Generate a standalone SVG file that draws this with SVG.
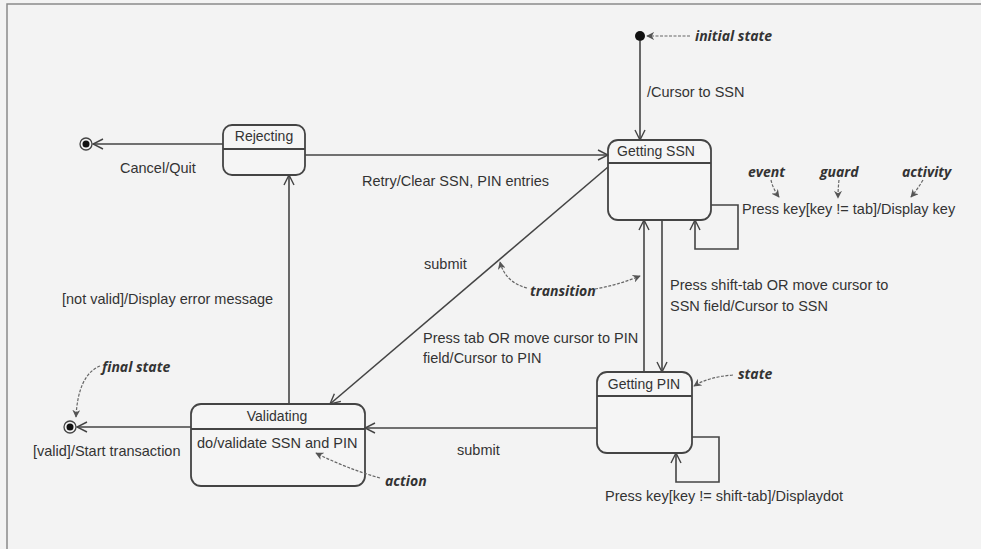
<svg xmlns="http://www.w3.org/2000/svg" width="981" height="549" viewBox="0 0 981 549">
<style>
.bg{fill:#f3f3f3}
.frame{fill:none;stroke:#8a8a8a;stroke-width:1.5}
.st{fill:#f5f5f5;stroke:#444;stroke-width:1.8}
.div{stroke:#444;stroke-width:1.8}
.c{fill:none;stroke:#444;stroke-width:1.6}
.n{fill:none;stroke:#666;stroke-width:1.2;stroke-dasharray:3 1.5}
.t{font-family:"Liberation Sans",Arial,sans-serif;font-size:14.5px;fill:#333}
.sn{font-family:"Liberation Sans",Arial,sans-serif;font-size:14px;fill:#333;text-anchor:middle}
.i{font-family:"Open Sans","DejaVu Sans",sans-serif;font-size:14px;font-style:italic;font-weight:bold;fill:#333}
</style>
<defs>
<marker id="open" viewBox="0 0 12 12" refX="11" refY="6" markerWidth="12" markerHeight="12" markerUnits="userSpaceOnUse" orient="auto">
<path d="M1,1 L11,6 L1,11" fill="none" stroke="#444" stroke-width="1.4"/>
</marker>
<marker id="small" viewBox="0 0 10 10" refX="9" refY="5" markerWidth="8" markerHeight="8" markerUnits="userSpaceOnUse" orient="auto">
<path d="M0,0 L10,5 L0,10 L3,5 Z" fill="#555"/>
</marker>
</defs>
<rect class="bg" x="0" y="0" width="981" height="549"/>
<path class="frame" d="M7,549 L7,4 L981,4"/>

<g id="initial"><circle cx="640" cy="36" r="5" fill="#111"/></g>
<g id="final-top"><circle cx="86" cy="144" r="6" fill="none" stroke="#444" stroke-width="1.3"/><circle cx="86" cy="144" r="3.5" fill="#111"/></g>
<g id="final-bottom"><circle cx="70" cy="427" r="6" fill="none" stroke="#444" stroke-width="1.3"/><circle cx="70" cy="427" r="3.5" fill="#111"/></g>

<g id="rejecting">
<rect class="st" x="223" y="125" width="82" height="50" rx="9"/>
<line class="div" x1="223" y1="149" x2="305" y2="149"/>
<text class="sn" x="264" y="141">Rejecting</text>
</g>
<g id="getting-ssn">
<rect class="st" x="608" y="140" width="103" height="80" rx="10"/>
<line class="div" x1="608" y1="163" x2="711" y2="163"/>
<text class="sn" x="656" y="156">Getting SSN</text>
</g>
<g id="getting-pin">
<rect class="st" x="597" y="372" width="95" height="81" rx="10"/>
<line class="div" x1="597" y1="396" x2="692" y2="396"/>
<text class="sn" x="644" y="389">Getting PIN</text>
</g>
<g id="validating">
<rect class="st" x="191" y="404" width="174" height="82" rx="10"/>
<line class="div" x1="191" y1="429" x2="365" y2="429"/>
<text class="sn" x="277" y="421">Validating</text>
<text class="t" x="197" y="448">do/validate SSN and PIN</text>
</g>

<g id="connectors">
<line class="c" x1="640" y1="41" x2="640" y2="140" marker-end="url(#open)"/>
<line class="c" x1="223" y1="144" x2="93" y2="144" marker-end="url(#open)"/>
<line class="c" x1="305" y1="155" x2="608" y2="155" marker-end="url(#open)"/>
<polyline class="c" points="711,205 738,205 738,249 695,249 695,220" marker-end="url(#open)"/>
<line class="c" x1="644" y1="372" x2="644" y2="220" marker-end="url(#open)"/>
<line class="c" x1="662" y1="220" x2="662" y2="372" marker-end="url(#open)"/>
<polyline class="c" points="692,437 719,437 719,482 676,482 676,453" marker-end="url(#open)"/>
<line class="c" x1="608" y1="167" x2="330" y2="404" marker-end="url(#open)"/>
<line class="c" x1="597" y1="428" x2="365" y2="428" marker-end="url(#open)"/>
<line class="c" x1="191" y1="427" x2="77" y2="427" marker-end="url(#open)"/>
<line class="c" x1="289" y1="404" x2="289" y2="175" marker-end="url(#open)"/>
</g>

<g id="notes">
<line class="n" x1="690" y1="36" x2="647" y2="36" marker-end="url(#small)"/>
<path class="n" d="M771,180 Q773,189 779,197" marker-end="url(#small)"/>
<path class="n" d="M839,180 Q838,189 838,198" marker-end="url(#small)"/>
<path class="n" d="M923,180 Q917,190 911,197" marker-end="url(#small)"/>
<path class="n" d="M527,288 Q505,282 500,262" marker-end="url(#small)"/>
<path class="n" d="M595,289 Q618,285 640,276" marker-end="url(#small)"/>
<path class="n" d="M733,375 Q708,377 694,386" marker-end="url(#small)"/>
<path class="n" d="M100,366 Q78,375 76,417" marker-end="url(#small)"/>
<path class="n" d="M380,478 Q345,468 316,453" marker-end="url(#small)"/>
</g>

<g id="labels">
<text class="i" x="695" y="41">initial state</text>
<text class="t" x="647" y="97">/Cursor to SSN</text>
<text class="t" x="120" y="173">Cancel/Quit</text>
<text class="t" x="362" y="186">Retry/Clear SSN, PIN entries</text>
<text class="i" x="748" y="177">event</text>
<text class="i" x="820" y="177">guard</text>
<text class="i" x="902" y="177">activity</text>
<text class="t" x="742" y="214">Press key[key != tab]/Display key</text>
<text class="t" x="62" y="304">[not valid]/Display error message</text>
<text class="t" x="424" y="269">submit</text>
<text class="i" x="530" y="296">transition</text>
<text class="t" x="670" y="290">Press shift-tab OR move cursor to</text>
<text class="t" x="670" y="311">SSN field/Cursor to SSN</text>
<text class="t" x="423" y="343">Press tab OR move cursor to PIN</text>
<text class="t" x="423" y="363">field/Cursor to PIN</text>
<text class="i" x="738" y="379">state</text>
<text class="i" x="102" y="372">final state</text>
<text class="t" x="33" y="456">[valid]/Start transaction</text>
<text class="t" x="457" y="455">submit</text>
<text class="i" x="385" y="486">action</text>
<text class="t" x="605" y="501">Press key[key != shift-tab]/Displaydot</text>
</g>
</svg>
